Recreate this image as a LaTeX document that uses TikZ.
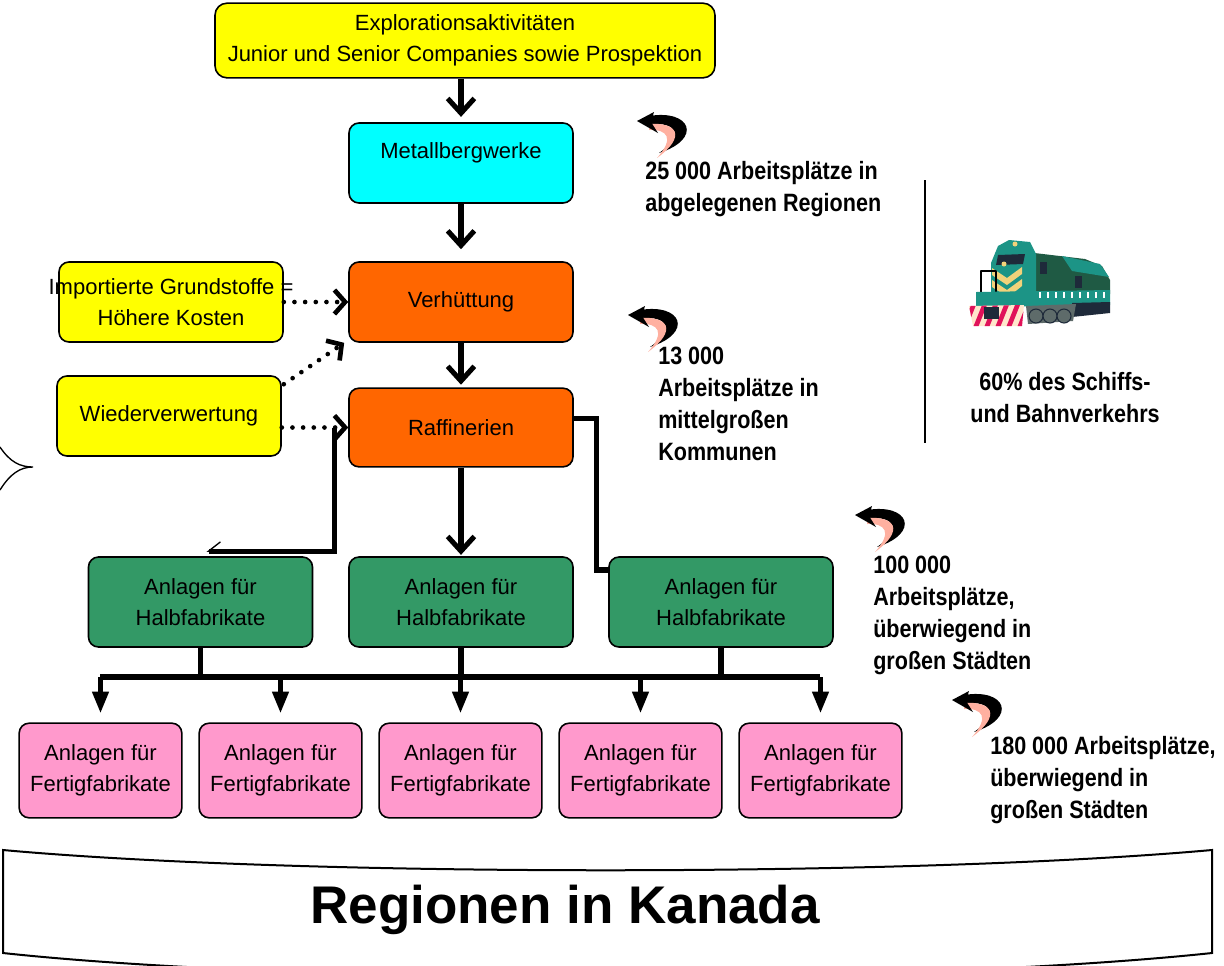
\documentclass[tikz,border=0pt]{standalone}
\usepackage{fontspec}
\setmainfont{Liberation Sans}
\newfontfamily\narrowfont[FakeStretch=0.86]{Liberation Sans}
\usetikzlibrary{arrows.meta,calc}

\definecolor{boxyellow}{HTML}{FFFF00}
\definecolor{boxcyan}{HTML}{00FFFF}
\definecolor{boxorange}{HTML}{FF6600}
\definecolor{boxgreen}{HTML}{339966}
\definecolor{boxpink}{HTML}{FF99CC}
\definecolor{arcpink}{HTML}{FFB0A0}
\definecolor{trainteal}{HTML}{1C9486}
\definecolor{traindark}{HTML}{1F5A44}
\definecolor{trainnavy}{HTML}{1E2A3A}
\definecolor{trainyellow}{HTML}{F2D27A}
\definecolor{trainred}{HTML}{E0125A}
\definecolor{traincream}{HTML}{FFE6CC}
\definecolor{traingrey}{HTML}{5E6B6A}

\newcommand\boxfont{\fontsize{16.5}{23}\selectfont}
\newcommand\jobfont{\narrowfont\bfseries\fontsize{18.8}{24}\selectfont}

\tikzset{
  backarrow/.pic={
    \fill (12,-5) .. controls (54,-12) and (66,18) .. (22,32)
      .. controls (48,14) and (40,1) .. (12,3) -- cycle;
    \fill[arcpink] (12,3) .. controls (40,1) and (50,15) .. (20,37)
      .. controls (38,17) and (30,8) .. (12,9) -- cycle;
    \fill (0,0) -- (17,-9) -- (14,1) -- (21,12) -- cycle;
  }
}

\begin{document}
\begin{tikzpicture}[x=0.75pt,y=-0.75pt,
    box/.style={draw,line width=1.2pt,rounded corners=7.5pt,minimum width=168pt,
      minimum height=60pt,align=center,font=\boxfont},
    flow/.style={line width=3.8pt,-{Straight Barb[length=11pt,width=20pt]}},
    link/.style={line width=3.8pt},
    branch/.style={line width=3.8pt,-{Straight Barb[right,length=9pt,width=14pt,line width=1pt]}},
    dots/.style={line width=3.5pt,line cap=round,dash pattern=on 0pt off 8pt,
      -{Straight Barb[length=8pt,width=18pt,line width=3.5pt]}},
    bus/.style={line width=5pt},
    stub/.style={line width=3.8pt},
    drop/.style={line width=3.2pt,-{Triangle[length=16pt,width=12pt]}},
    jobtext/.style={anchor=north west,inner sep=0pt,align=left,font=\jobfont}]
  \useasboundingbox (0,0) rectangle (1224,965);

  \node[box,minimum width=375pt,minimum height=56pt,rounded corners=9pt,fill=boxyellow] (explo)
    at (465,40.5) {Explorationsaktivitäten\\Junior und Senior Companies sowie Prospektion};
  \node[box,fill=boxcyan,text height=12pt,text depth=19.5pt] (metall) at (461,163) {Metallbergwerke};
  \node[box,fill=boxorange] (verh) at (461,302) {Verhüttung};
  \node[box,fill=boxorange,minimum height=59pt] (raff) at (461,427.5) {Raffinerien};
  \node[box,fill=boxyellow,
    label={[font=\boxfont,align=center]center:Importierte Grundstoffe =\\Höhere Kosten}] (import)
    at (171,302) {};
  \node[box,fill=boxyellow] (wieder) at (169,416) {Wiederverwertung};
  \foreach \x/\n in {200.5/1,461/2,721/3}
    \node[box,fill=boxgreen,minimum height=67.5pt] (halb\n) at (\x,602) {Anlagen für\\Halbfabrikate};
  \foreach \n in {1,...,5}
    \node[box,fill=boxpink,minimum width=122pt,minimum height=71pt] (fertig\n)
      at ({100.5+180*(\n-1)},770.5) {Anlagen für\\Fertigfabrikate};

  \draw[flow,shorten >=4pt] (metall.north |- explo.south) -- (metall.north);
  \draw[flow,shorten >=9pt] (metall) -- (verh);
  \draw[flow,shorten >=2pt] (verh) -- (raff);
  \draw[flow,shorten >=1pt] (raff) -- (halb2);
  \draw[branch] ($(raff.west)+(-14,0)$) |- ($(halb1.north)+(6,-5)$);
  \draw[link] ($(raff.east)+(0,-9)$) -- ++(23,0) |- ($(halb3.west)+(0,-32)$);

  \draw[dots] (import.east) -- (verh.west);
  \draw[dots] ($(wieder.north east)+(2,9)$) -- ($(verh.south west)+(-4,0)$);
  \draw[dots] (wieder.east |- raff.west) -- (raff.west);

  \coordinate (busL) at (100,677);
  \coordinate (busR) at (820,677);
  \draw[bus] (busL) -- (busR);
  \foreach \n in {1,2,3}
    \draw[stub] (halb\n.south) -- (halb\n.south |- busL);
  \foreach \n in {1,...,5}
    \draw[drop,shorten >=7pt] (fertig\n.north |- busL) -- (fertig\n.north);

  \pic at (637,121) {backarrow};
  \pic at (628,315) {backarrow};
  \pic at (855,515) {backarrow};
  \pic at (952,700) {backarrow};

  \node[jobtext] (jobsA) at (645,161) {25 000 Arbeitsplätze in\\abgelegenen Regionen};
  \node[jobtext] (jobsB) at (658,347) {13 000\\Arbeitsplätze in\\mittelgroßen\\Kommunen};
  \node[jobtext] (jobsC) at (873,556) {100 000\\Arbeitsplätze,\\überwiegend in\\großen Städten};
  \node[jobtext] (jobsD) at (990,736) {180 000 Arbeitsplätze,\\überwiegend in\\großen Städten};

  \coordinate (sepTop) at (925,180);
  \coordinate (sepBot) at (925,443);
  \draw[line width=1.2pt] (sepTop) -- (sepBot);
  \node[font=\jobfont,align=center] (share) at (1065,398) {60\% des Schiffs-\\und Bahnverkehrs};

  % locomotive
  \begin{scope}[line join=round]
    \fill[traindark] (1026,252) -- (1085,259) -- (1102,266) -- (1110,280) -- (1110,294) -- (1026,298) -- cycle;
    \fill[trainteal] (1062,256) -- (1100,264) -- (1109,277) -- (1072,271) -- cycle;
    \fill[trainnavy] (1040,262) -- (1047,262) -- (1047,274) -- (1040,274) -- cycle;
    \fill[trainnavy] (1075,276) -- (1082,276) -- (1082,288) -- (1075,288) -- cycle;
    \fill[trainteal] (998,246) -- (1009,240) -- (1030,242) -- (1036,254) -- (1036,298) -- (991,298) -- (991,263) -- cycle;
    \fill[trainnavy] (998,255) -- (1025,254) -- (1023,264) -- (996,265) -- cycle;
    \fill[trainyellow] (1015,244) circle (2.5);
    \fill[trainyellow] (1004,264) circle (2.5);
    \fill[trainyellow] (992,268) -- (1007,278) -- (1022,267) -- (1022,274) -- (1007,285) -- (992,275) -- cycle;
    \fill[trainyellow] (992,280) -- (1007,290) -- (1022,279) -- (1022,286) -- (1012,294) -- (1003,294) -- (992,287) -- cycle;
    \draw[line width=0.9pt] (981,293) -- (981,271) -- (996,271) -- (996,293);
    \fill[trainteal] (976,292) -- (1110,290) -- (1110,305) -- (976,307) -- cycle;
    \foreach \x in {1040,1048,...,1104}
      \draw[white,line width=0.8pt] (\x,292) -- (\x,298);
    \begin{scope}
      \clip (969,306) -- (1024,305) -- (1022,326) -- (973,326) -- cycle;
      \fill[traincream] (965,300) rectangle (1028,330);
      \foreach \x in {950,961,...,1030}
        \fill[trainred] (\x,330) -- (\x+5,330) -- (\x+17,300) -- (\x+12,300) -- cycle;
    \end{scope}
    \fill[trainnavy] (984,307) rectangle (999,319);
    \fill[trainnavy] (1072,303) -- (1110,302) -- (1110,313) -- (1072,317) -- cycle;
    \fill[traingrey] (1026,306) -- (1076,304) -- (1073,321) -- (1028,324) -- cycle;
    \foreach \x in {1036,1050,1064}
      \draw[fill=traingrey,draw=trainnavy,line width=0.8pt] (\x,316) circle (7);
  \end{scope}

  \draw[line width=1pt] (0,447) .. controls (10,462) and (20,467) .. (33,467)
    .. controls (20,467) and (10,474) .. (0,490);

  \draw[line width=1.5pt,fill=white] (3,850) .. controls (300,877) and (910,877) .. (1212,850)
    -- (1212,953) .. controls (910,985) and (300,985) .. (3,953) -- cycle;
  \node[font=\bfseries\fontsize{39.75}{44}\selectfont] (region) at (565,910) {Regionen in Kanada};
\end{tikzpicture}
\end{document}
